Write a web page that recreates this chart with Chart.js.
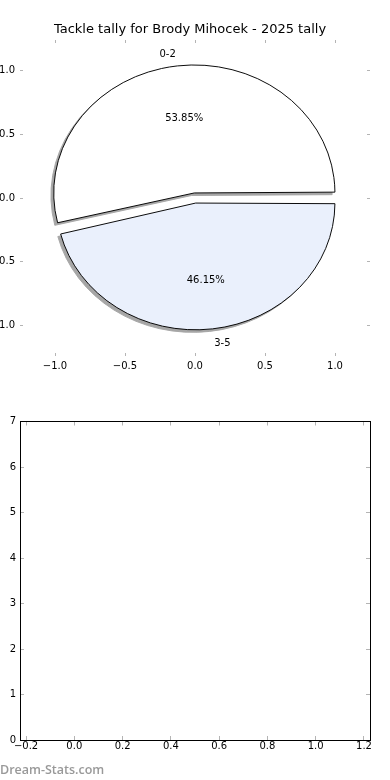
<!DOCTYPE html>
<html lang="en">
<head>
<meta charset="UTF-8">
<title>Tackle tally for Brody Mihocek - 2025 tally</title>
<script src="https://cdn.jsdelivr.net/npm/chart.js"></script>
<style>
    body { margin: 0; width: 390px; height: 780px; overflow: hidden; background: #fff; position: relative; }
    .caja { position: absolute; left: -10px; width: 400px; height: 390px; }
    #cajaPie { top: 0; }
    #cajaVacia { top: 390px; }
    #marca { position: absolute; left: 0; top: 761px; font-family: "Open Sans"; font-weight: 600; font-size: 12.5px; line-height: 18px; color: #999; }
</style>
</head>
<body>
<div class="caja" id="cajaPie"><canvas id="pie" width="400" height="390"></canvas></div>
<div class="caja" id="cajaVacia"><canvas id="vacio" width="400" height="390"></canvas></div>
<div id="marca">Dream-Stats.com</div>

<script>
    const titulo = 'Tackle tally for Brody Mihocek - 2025 tally';
    const categorias = ['0-2', '3-5'];
    const valores = [7, 6];
    const colores = ['#ffffff', '#eaf0fc'];
    const ticksPie = [-1.0, -0.5, 0.0, 0.5, 1.0];
    const ticksX2 = [-0.2, 0.0, 0.2, 0.4, 0.6, 0.8, 1.0, 1.2];
    const ticksY2 = [0, 1, 2, 3, 4, 5, 6, 7];

    Chart.defaults.font.family = 'DejaVu Sans';
    Chart.defaults.font.size = 10;
    Chart.defaults.color = '#000';

    const total = valores.reduce((a, b) => a + b, 0);
    // chart.js gira en sentido horario, matplotlib al reves: invierto el orden
    const orden = [1, 0];

    function fmt(v, dec) {
        return (v < 0 ? '\u2212' : '') + Math.abs(v).toFixed(dec);
    }

    function fijarTicks(lista) {
        return s => { s.ticks = lista.map(v => ({ value: v })); };
    }

    function ejeMarcas(pos, min, max, lista, conTexto, tam, dec, largo, pad, borde) {
        return {
            type: 'linear', position: pos, min: min, max: max,
            afterBuildTicks: fijarTicks(lista),
            afterFit: s => { if (pos === 'left' || pos === 'right') s.width = tam; else s.height = tam; },
            grid: { drawOnChartArea: false, drawTicks: true, tickLength: largo, color: '#b4b4b4', lineWidth: 1 },
            border: borde ? { display: true, color: '#000', width: 1 } : { display: false },
            ticks: { display: conTexto, padding: pad, callback: v => fmt(v, dec), autoSkip: false, maxRotation: 0 }
        };
    }

    // dibuja la sombra y aplasta el pie en vertical como en el original
    const pieTrazo = {
        id: 'pieTrazo',
        beforeDatasetsDraw(chart) {
            const ctx = chart.ctx, a = chart.chartArea;
            const cx = (a.left + a.right) / 2, cy = (a.top + a.bottom) / 2;
            const ux = chart.scales.x.getPixelForValue(1) - chart.scales.x.getPixelForValue(0);
            const uy = chart.scales.y.getPixelForValue(0) - chart.scales.y.getPixelForValue(1);
            ctx.save();
            ctx.translate(cx, cy);
            ctx.scale(1, uy / ux);
            ctx.translate(-cx, -cy);
            chart.getDatasetMeta(0).data.forEach(arc => {
                const sombra = Object.create(arc);
                sombra.options = Object.assign({}, arc.options, { backgroundColor: '#a6a6a6', borderColor: '#a6a6a6' });
                ctx.save();
                ctx.translate(-0.02 * ux, 0.02 * ux);
                sombra.draw(ctx);
                ctx.restore();
            });
        },
        afterDatasetsDraw(chart) {
            const ctx = chart.ctx;
            ctx.restore();
            const ux = chart.scales.x.getPixelForValue(1) - chart.scales.x.getPixelForValue(0);
            const uy = chart.scales.y.getPixelForValue(0) - chart.scales.y.getPixelForValue(1);
            ctx.save();
            ctx.font = '10px "DejaVu Sans"';
            ctx.fillStyle = '#000';
            ctx.textBaseline = 'middle';
            chart.getDatasetMeta(0).data.forEach((arc, i) => {
                const k = orden[i];
                const mid = (arc.startAngle + arc.endAngle) / 2;
                const desp = arc.options.offset / 4;
                const punto = d => [
                    arc.x + Math.cos(mid) * (d * ux + desp),
                    arc.y + Math.sin(mid) * (d * ux + desp) * uy / ux
                ];
                let p = punto(1.1);
                ctx.textAlign = Math.cos(mid) > 0 ? 'left' : 'right';
                ctx.fillText(categorias[k], p[0], p[1] + 1);
                p = punto(0.6);
                ctx.textAlign = 'center';
                ctx.fillText((valores[k] / total * 100).toFixed(2) + '%', p[0], p[1] + 1);
            });
            ctx.restore();
        }
    };

    new Chart(document.getElementById('pie'), {
        type: 'pie',
        data: {
            labels: orden.map(i => categorias[i]),
            datasets: [{
                data: orden.map(i => valores[i]),
                backgroundColor: orden.map(i => colores[i]),
                borderColor: '#000',
                borderWidth: 1,
                borderJoinStyle: 'miter',
                offset: 22.4
            }]
        },
        options: {
            responsive: false,
            animation: false,
            events: [],
            rotation: 90,
            radius: 135,
            layout: { padding: 0 },
            plugins: {
                legend: { display: false },
                tooltip: { enabled: false },
                title: {
                    display: true, text: titulo, color: '#000',
                    font: { size: 13, weight: 'normal' },
                    padding: { top: 22, bottom: 2.4 }
                }
            },
            scales: {
                x: ejeMarcas('bottom', -1.25, 1.25, ticksPie, true, 34, 1, -3, 7.5, false),
                x2: ejeMarcas('top', -1.25, 1.25, ticksPie, false, 0, 1, -3, 0, false),
                y: ejeMarcas('left', -1.24, 1.24, ticksPie, true, 30, 1, -3, 8, false),
                y2: ejeMarcas('right', -1.24, 1.24, ticksPie, false, 20, 1, -3, 0, false)
            }
        },
        plugins: [pieTrazo]
    });

    new Chart(document.getElementById('vacio'), {
        type: 'scatter',
        data: { datasets: [{ data: [] }] },
        options: {
            responsive: false,
            animation: false,
            events: [],
            layout: { padding: 0 },
            plugins: { legend: { display: false }, tooltip: { enabled: false } },
            scales: {
                x: ejeMarcas('bottom', -0.225, 1.225, ticksX2, true, 40, 1, -4, 4.5, true),
                x2: ejeMarcas('top', -0.225, 1.225, ticksX2, false, 31.5, 1, -4, 0, true),
                y: ejeMarcas('left', 0, 7, ticksY2, true, 30, 0, -4, 8, true),
                y2: ejeMarcas('right', 0, 7, ticksY2, false, 20, 0, -4, 0, true)
            }
        }
    });
</script>
</body>
</html>
